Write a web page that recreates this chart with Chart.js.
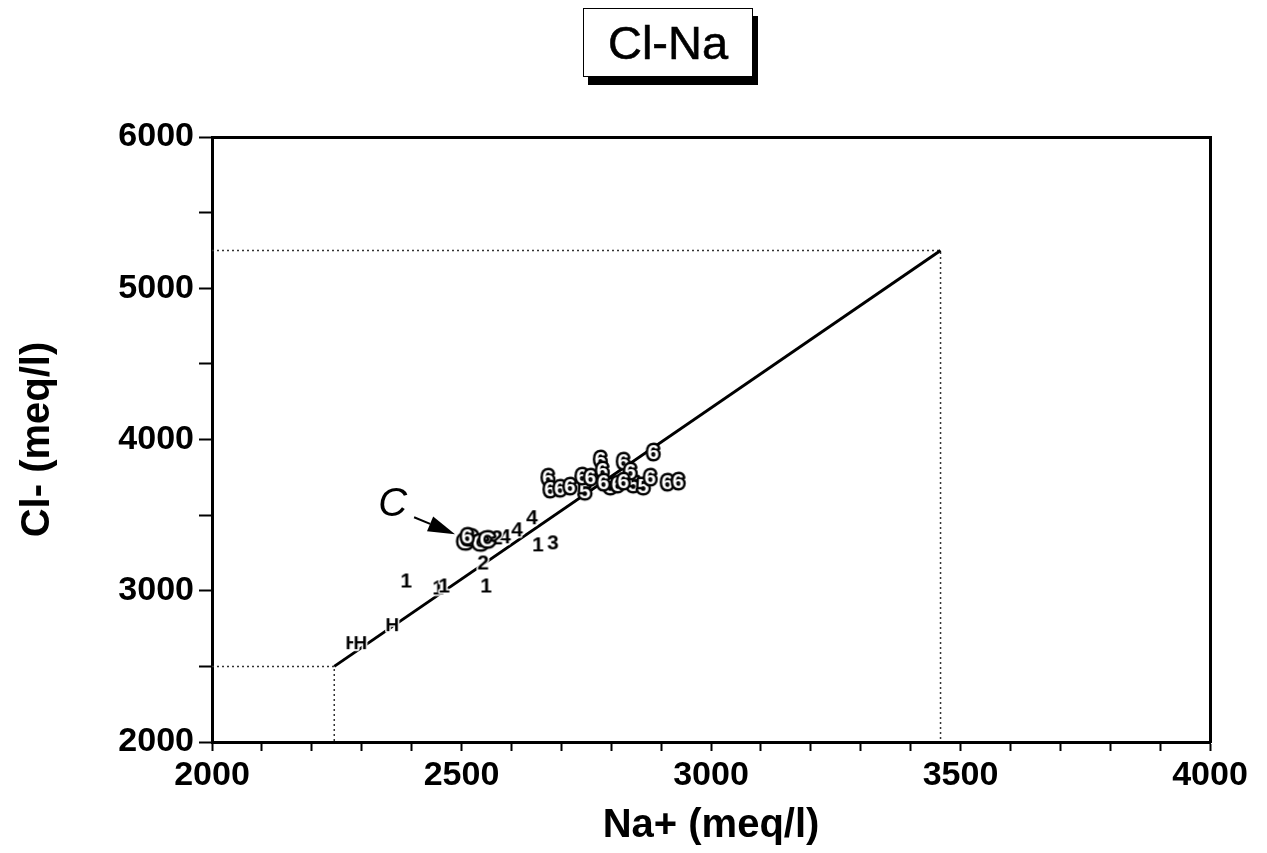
<!DOCTYPE html>
<html>
<head>
<meta charset="utf-8">
<title>Cl-Na</title>
<script src="https://cdn.jsdelivr.net/npm/chart.js@4.4.1/dist/chart.umd.min.js"></script>
<style>
  body { margin: 0; background: #fff; }
  #wrap { position: relative; width: 1267px; height: 853px; }
  #title {
    position: absolute; left: 583px; top: 8px; width: 168px; height: 67px;
    border: 1.5px solid #000; box-shadow: 5px 8px 0 #000; background: #fff;
    font: 47px "Liberation Sans", Arial, sans-serif; text-align: center; line-height: 67px;
    -webkit-text-stroke: 0.6px #000;
  }
</style>
</head>
<body>
<div id="wrap">
  <canvas id="clna" width="1267" height="853"></canvas>
  <div id="title">Cl-Na</div>
</div>
<script>
const FONT = '"Liberation Sans", Arial, sans-serif';

// sample points, grouped by the symbol plotted for them  [Na+, Cl-] in meq/l
const sixPts = [
    [2511, 3360], [2673, 3751], [2677, 3672], [2697, 3678], [2717, 3692], [2741, 3758],
    [2758, 3751], [2778, 3871], [2782, 3798], [2784, 3718], [2812, 3705], [2824, 3857],
    [2838, 3791], [2824, 3725], [2884, 3917], [2878, 3751], [2912, 3718], [2934, 3725],
];
const fivePts = [[2747, 3658], [2798, 3692], [2844, 3705], [2864, 3692]];
const cPts = [[2507, 3327], [2517, 3353], [2537, 3320], [2551, 3340]];
const twoPts = [[2571, 3353], [2543, 3187]];
const fourPts = [[2587, 3360], [2611, 3406], [2641, 3486]];
const onePts = [[2653, 3307], [2549, 3035], [2389, 3068], [2453, 3022], [2465, 3035]];
const threePts = [[2683, 3320]];
const hPts = [[2281, 2657], [2297, 2657], [2361, 2776]];

// mixing line and its end-member guides
const fitLine = [[2245, 2500], [3460, 5250]];
const guideLow = [[2000, 2500], [2245, 2500], [2245, 2000]];
const guideHigh = [[2000, 5250], [3460, 5250], [3460, 2000]];

// "C" callout
const calloutText = "C";
const calloutAt = [2362, 3566];
const arrowFrom = [2405, 3486];
const arrowTo = [2487, 3373];

const toXY = (pts) => pts.map(p => ({ x: p[0], y: p[1] }));

function glyph(text, outlined, size) {
    const c = document.createElement("canvas");
    c.width = Math.ceil(size * 0.9 + 8);
    c.height = Math.ceil(size * 1.2 + 6);
    const g = c.getContext("2d");
    g.font = `bold ${size}px ${FONT}`;
    g.textAlign = "center";
    g.textBaseline = "middle";
    g.lineJoin = "round";
    const cx = c.width / 2, cy = c.height / 2 + 1;
    if (outlined) {
        g.lineWidth = 5;
        g.strokeStyle = "#000";
        g.strokeText(text, cx, cy);
        g.fillStyle = "#fff";
        g.fillText(text, cx, cy);
    } else {
        g.lineWidth = 3;
        g.strokeStyle = "#fff";
        g.strokeText(text, cx, cy);
        g.fillStyle = "#000";
        g.fillText(text, cx, cy);
    }
    return c;
}

function symbolSet(label, pts, outlined, size) {
    return {
        label, data: toXY(pts), showLine: false,
        pointStyle: glyph(label, outlined, size), pointRadius: 3, pointHoverRadius: 3,
    };
}

function lineSet(label, pts, width, dash, color) {
    return {
        label, data: toXY(pts), showLine: true, fill: false,
        borderColor: color, borderWidth: width, borderDash: dash,
        pointRadius: 0, pointHoverRadius: 0, tension: 0,
    };
}

const calloutPlugin = {
    id: "callout",
    afterDatasetsDraw(chart) {
        const { ctx, scales: { x, y } } = chart;
        const fx = x.getPixelForValue(arrowFrom[0]), fy = y.getPixelForValue(arrowFrom[1]);
        const tx = x.getPixelForValue(arrowTo[0]), ty = y.getPixelForValue(arrowTo[1]);
        const ang = Math.atan2(ty - fy, tx - fx);
        const headLen = 27, headW = 8;
        const bx = tx - headLen * Math.cos(ang), by = ty - headLen * Math.sin(ang);
        ctx.save();
        ctx.strokeStyle = "#000";
        ctx.fillStyle = "#000";
        ctx.lineWidth = 2;
        ctx.beginPath();
        ctx.moveTo(fx, fy);
        ctx.lineTo(bx, by);
        ctx.stroke();
        ctx.beginPath();
        ctx.moveTo(tx, ty);
        ctx.lineTo(bx + headW * Math.sin(ang), by - headW * Math.cos(ang));
        ctx.lineTo(bx - headW * Math.sin(ang), by + headW * Math.cos(ang));
        ctx.closePath();
        ctx.fill();
        ctx.font = `italic 40px ${FONT}`;
        ctx.textAlign = "center";
        ctx.textBaseline = "middle";
        ctx.fillText(calloutText, x.getPixelForValue(calloutAt[0]), y.getPixelForValue(calloutAt[1]));
        ctx.restore();
    },
};

const frameAxis = (position) => ({
    type: "linear", position, display: true,
    min: 2000,
    max: position === "top" ? 4000 : 6000,
    ticks: { display: false },
    grid: { display: true, drawOnChartArea: false, drawTicks: false },
    border: { color: "#000", width: 3 },
    afterFit: (s) => { if (position === "top") s.height = 0; else s.width = 0; },
});

const tickFont = { size: 34, family: FONT, weight: "bold" };
const titleFont = { size: 40, family: FONT, weight: "bold" };

new Chart(document.getElementById("clna").getContext("2d"), {
    type: "scatter",
    data: {
        datasets: [
            symbolSet("6", sixPts, true, 21),
            symbolSet("5", fivePts, true, 21),
            symbolSet("C", cPts, true, 21),
            symbolSet("2", twoPts, false, 21),
            symbolSet("4", fourPts, false, 21),
            symbolSet("1", onePts, false, 21),
            symbolSet("3", threePts, false, 21),
            symbolSet("H", hPts, false, 19),
            lineSet("fit", fitLine, 3, [], "#000"),
            lineSet("low", guideLow, 1.5, [2, 3], "#333"),
            lineSet("high", guideHigh, 1.5, [2, 3], "#333"),
        ],
    },
    options: {
        responsive: false,
        animation: false,
        devicePixelRatio: 1,
        layout: { padding: { left: 0, top: 137, right: 57, bottom: 0 } },
        plugins: { legend: { display: false }, tooltip: { enabled: false } },
        scales: {
            x: {
                type: "linear", position: "bottom", min: 2000, max: 4000,
                ticks: {
                    stepSize: 100, autoSkip: false, maxRotation: 0, padding: 4,
                    color: "#000", font: tickFont,
                    callback: (v) => (v % 500 === 0 ? String(v) : ""),
                },
                grid: { drawOnChartArea: false, tickLength: 9, tickWidth: 2, tickColor: "#000" },
                border: { color: "#000", width: 3 },
                title: {
                    display: true, text: "Na+ (meq/l)", color: "#000",
                    font: titleFont, padding: { top: 0, bottom: 3 },
                },
                afterFit: (s) => { s.height = 111; },
            },
            y: {
                type: "linear", position: "left", min: 2000, max: 6000,
                ticks: {
                    stepSize: 500, autoSkip: false, padding: 5,
                    color: "#000", font: tickFont,
                    callback: (v) => (v % 1000 === 0 ? String(v) : ""),
                },
                grid: { drawOnChartArea: false, tickLength: 13, tickWidth: 2, tickColor: "#000" },
                border: { color: "#000", width: 3 },
                title: {
                    display: true, text: "Cl- (meq/l)", color: "#000",
                    font: titleFont, padding: { top: 14, bottom: 0 },
                },
                afterFit: (s) => { s.width = 212; },
            },
            x2: frameAxis("top"),
            y2: frameAxis("right"),
        },
    },
    plugins: [calloutPlugin],
});
</script>
</body>
</html>
